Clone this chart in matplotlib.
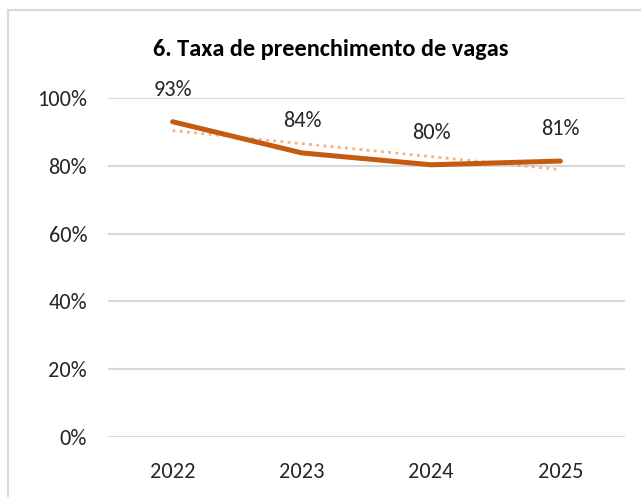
import matplotlib
matplotlib.use("Agg")
import matplotlib.pyplot as plt
import numpy as np
from matplotlib.patches import Rectangle
from matplotlib.ticker import PercentFormatter

years = ["2022", "2023", "2024", "2025"]
rates = [0.93, 0.838, 0.803, 0.814]
labels = ["93%", "84%", "80%", "81%"]
yticks = [0, 0.2, 0.4, 0.6, 0.8, 1.0]

plt.rcParams['font.family'] = ['Carlito', 'Open Sans', 'DejaVu Sans']

fig = plt.figure(figsize=(6.41, 4.97), dpi=100)
ax = fig.add_axes([108 / 641, 1 - 437 / 497, 517 / 641, (437 - 98) / 497])

# chart border
fig.patches.append(Rectangle((8 / 641, -0.1), 1.2, 1 - 10 / 497 + 0.1,
                             transform=fig.transFigure, fill=False,
                             edgecolor='#D9D9D9', linewidth=1.5))

x = np.arange(len(years))
ax.plot(x, rates, color='#C55A11', linewidth=3.6, solid_capstyle='round', zorder=3)

# linear trendline
coef = np.polyfit(x, rates, 1)
ax.plot(x, np.polyval(coef, x), color='#F4B183', linewidth=2, linestyle=(0, (1, 1.6)), zorder=2)

for xi, yi, lab in zip(x, rates, labels):
    ax.annotate(lab, (xi, yi), xytext=(0, 16), textcoords='offset points',
                ha='center', va='bottom', fontsize=16, color='#262626', annotation_clip=False)

ax.set_xlim(-0.5, 3.5)
ax.set_ylim(0, 1)
ax.set_xticks(x)
ax.set_xticklabels(years)
ax.set_yticks(yticks)
ax.yaxis.set_major_formatter(PercentFormatter(1.0, decimals=0))
ax.tick_params(length=0, labelsize=16, labelcolor='#262626', pad=15)
ax.tick_params(axis='x', pad=18)
ax.grid(axis='y', color='#D9D9D9', linewidth=1.5)
ax.set_axisbelow(True)
for s in ax.spines.values():
    s.set_visible(False)

fig.text(331 / 641, 1 - 49 / 497, "6. Taxa de preenchimento de vagas",
         ha='center', va='center', fontsize=17.5, fontweight='bold', color='black')

fig.savefig("out.png", dpi=100)
